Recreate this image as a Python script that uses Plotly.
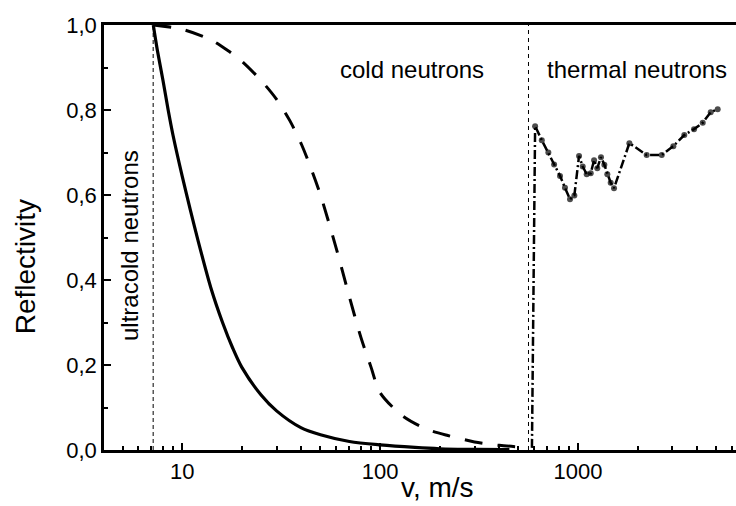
import numpy as np
import plotly.graph_objects as go

# ---------------- data ----------------
solid_v = [7.15, 7.5, 8.0, 8.5, 9.0, 10, 11, 12, 14, 16, 18, 20, 25, 30, 40, 50, 70, 100, 150, 200, 300, 450]
solid_r = [1.0, 0.94, 0.87, 0.80, 0.74, 0.645, 0.565, 0.495, 0.38, 0.30, 0.24, 0.195, 0.13, 0.092, 0.052, 0.036, 0.02, 0.012, 0.006, 0.003, 0.0015, 0.001]

dash_v = [7.15, 10, 14, 17, 20, 25, 30, 35, 40, 45, 50, 60, 70, 80, 90, 100, 130, 170, 220, 300, 400, 550]
dash_r = [1.0, 0.99, 0.965, 0.94, 0.915, 0.87, 0.825, 0.775, 0.72, 0.66, 0.60, 0.475, 0.36, 0.265, 0.195, 0.135, 0.08, 0.05, 0.034, 0.019, 0.011, 0.006]

therm_v = [585, 607, 656, 708, 757, 811, 859, 911, 958, 1012, 1056, 1106, 1159, 1205, 1251, 1306,
           1358, 1406, 1462, 1520, 1817, 2222, 2648, 3030, 3442, 3854, 4265, 4680, 5076]
therm_r = [0.005, 0.762, 0.729, 0.700, 0.672, 0.645, 0.617, 0.590, 0.599, 0.692, 0.667, 0.649, 0.651, 0.682,
           0.663, 0.689, 0.671, 0.649, 0.629, 0.616, 0.722, 0.694, 0.694, 0.715, 0.741, 0.755, 0.770,
           0.795, 0.802]

ucn_limit = 7.14
thermal_limit = 562

x_ticks = [10, 100, 1000]
x_ticktext = ["10", "100", "1000"]
y_ticks = [0, 0.2, 0.4, 0.6, 0.8, 1.0]
y_ticktext = ["0,0", "0,2", "0,4", "0,6", "0,8", "1,0"]

# --------------- figure ---------------
FONT = "Liberation Sans, Arial, sans-serif"
fig = go.Figure()

fig.add_trace(go.Scatter(x=solid_v, y=solid_r, mode="lines",
                         line=dict(color="black", width=3.2, shape="spline", smoothing=0.8)))
fig.add_trace(go.Scatter(x=dash_v, y=dash_r, mode="lines",
                         line=dict(color="black", width=3, dash="18px,15px", shape="spline", smoothing=0.8)))
msize = [0] + [6] * (len(therm_v) - 1)
fig.add_trace(go.Scatter(x=therm_v, y=therm_r, mode="lines+markers",
                         line=dict(color="black", width=2.5, dash="9px,3px,2px,3px"),
                         marker=dict(color="black", size=msize, line=dict(width=0))))

# boundary lines
fig.add_trace(go.Scatter(x=[ucn_limit, ucn_limit], y=[0, 1], mode="lines",
                         line=dict(color="black", width=1, dash="4px,3px")))
fig.add_trace(go.Scatter(x=[thermal_limit, thermal_limit], y=[0, 1], mode="lines",
                         line=dict(color="black", width=1, dash="4px,4px")))

minor_x = [v * 10 ** k for k in range(0, 4) for v in range(2, 10) if 4 <= v * 10 ** k <= 6300]

fig.update_xaxes(type="log", range=[np.log10(4.03), 3.798],
                 showline=True, linewidth=2.5, linecolor="black", mirror=True,
                 ticks="inside", ticklen=7, tickwidth=2, tickcolor="black",
                 tickvals=x_ticks, ticktext=x_ticktext,
                 tickfont=dict(family=FONT, size=22, color="black"),
                 minor=dict(ticks="inside", ticklen=4, tickwidth=1.5, tickcolor="black", tickvals=minor_x),
                 showgrid=False, zeroline=False)
fig.update_yaxes(range=[0, 1], showline=True, linewidth=2.5, linecolor="black",
                 ticks="inside", ticklen=7, tickwidth=2, tickcolor="black",
                 tickvals=y_ticks, ticktext=y_ticktext,
                 tickfont=dict(family=FONT, size=22, color="black"),
                 minor=dict(ticks="inside", ticklen=4, tickwidth=1.5, tickcolor="black",
                            tickvals=[0.1, 0.3, 0.5, 0.7, 0.9]),
                 showgrid=False, zeroline=False)


def font(sz):
    return dict(family=FONT, size=sz, color="black")


fig.add_annotation(text="v, m/s", xref="paper", yref="paper", x=0.527, y=(450 - 505) / 425,
                   xanchor="center", yanchor="bottom", showarrow=False, font=font(28))
fig.add_annotation(text="Reflectivity", xref="paper", yref="paper", x=-0.125, y=0.43, textangle=-90,
                   xanchor="center", yanchor="middle", showarrow=False, font=font(28))
fig.add_annotation(text="cold neutrons", xref="paper", yref="y", x=(338 - 104) / 632, y=0.895,
                   xanchor="left", yanchor="middle", showarrow=False, font=font(24))
fig.add_annotation(text="thermal neutrons", xref="paper", yref="y", x=(545 - 104) / 632, y=0.895,
                   xanchor="left", yanchor="middle", showarrow=False, font=font(24))
fig.add_annotation(text="ultracold neutrons", xref="paper", yref="y", x=(129 - 104) / 632, y=0.48, textangle=-90,
                   xanchor="center", yanchor="middle", showarrow=False, font=font(24))

fig.update_layout(width=736, height=506, margin=dict(l=104, r=0, t=25, b=56),
                  paper_bgcolor="white", plot_bgcolor="white", showlegend=False)

fig.write_html("out.html")
